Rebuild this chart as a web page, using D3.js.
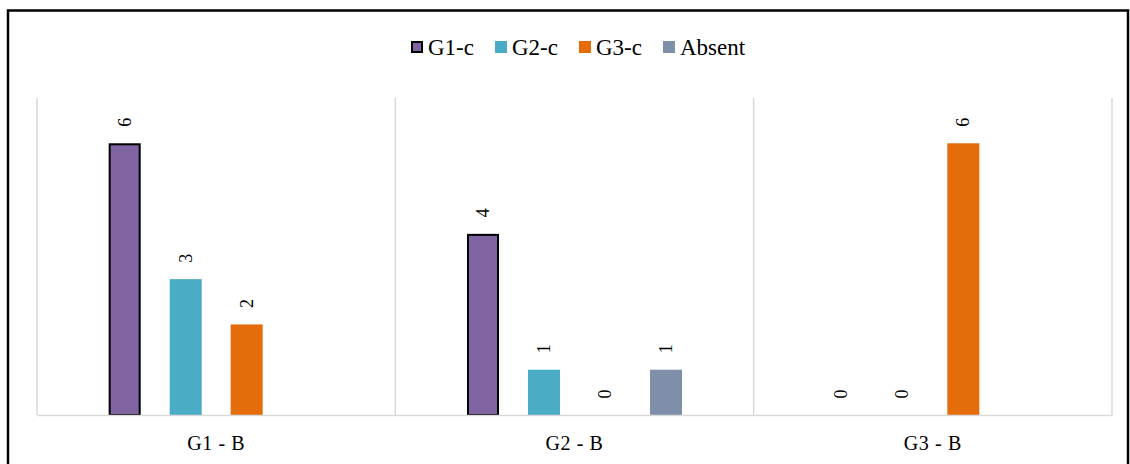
<!DOCTYPE html>
<html>
<head>
<meta charset="utf-8">
<script src="https://cdn.jsdelivr.net/npm/d3@7"></script>
<style>
  html, body { margin: 0; padding: 0; background: #fff; }
  svg { display: block; }
  svg text { font-family: "Times New Roman", "Liberation Serif", "DejaVu Serif", serif !important; }
</style>
</head>
<body>
<svg id="chart" width="1130" height="464"></svg>
<script>
const categories = ["G1 - B", "G2 - B", "G3 - B"];
const seriesNames = ["G1-c", "G2-c", "G3-c", "Absent"];
const g1c = [6, 4, 0];
const g2c = [3, 1, 0];
const g3c = [2, 0, 6];
const absent = [null, 1, null];
const seriesColors = ["#8064a2", "#4bacc6", "#e46c0a", "#7f8fa9"];

const seriesValues = [g1c, g2c, g3c, absent];
const FONT = "'Times New Roman', 'Liberation Serif', 'DejaVu Serif', serif";

const svg = d3.select("#chart").attr("font-family", FONT);
const W = 1130, H = 464;
const plot = { left: 37, right: 1112, top: 98, bottom: 415 };

svg.append("rect").attr("width", W).attr("height", H).attr("fill", "#fff");

// outer frame
svg.append("path")
  .attr("d", `M8,${H + 10} V10.5 H1128 V${H + 10}`)
  .attr("fill", "none").attr("stroke", "#000").attr("stroke-width", 2.5);

const x0 = d3.scaleBand().domain(categories).range([plot.left, plot.right]).padding(0);
const x1 = d3.scaleBand().domain(seriesNames).range([0, x0.bandwidth()])
  .paddingInner(0.475).paddingOuter(1.175);
const y = d3.scaleLinear().domain([0, 7]).range([plot.bottom, plot.top]);

// vertical category separators
const seps = categories.map(c => x0(c)).concat([x0.range()[1]]);
svg.append("g").selectAll("line").data(seps).join("line")
  .attr("x1", d => d).attr("x2", d => d)
  .attr("y1", plot.top).attr("y2", plot.bottom)
  .attr("stroke", "#d9d9d9").attr("stroke-width", 1.5);

// bars
const data = [];
categories.forEach((c, i) => {
  seriesNames.forEach((s, j) => {
    data.push({ cat: c, series: s, j, value: seriesValues[j][i] });
  });
});

const barG = svg.append("g");
barG.selectAll("rect").data(data.filter(d => d.value != null && d.value > 0)).join("rect")
  .attr("x", d => x0(d.cat) + x1(d.series) + (d.j === 0 ? 1 : 0))
  .attr("width", d => x1.bandwidth() - (d.j === 0 ? 2 : 0))
  .attr("y", d => y(d.value) + (d.j === 0 ? 1 : 0))
  .attr("height", d => y(0) - y(d.value) - (d.j === 0 ? 1 : 0))
  .attr("fill", d => seriesColors[d.j])
  .attr("stroke", d => d.j === 0 ? "#000" : "none")
  .attr("stroke-width", 2);

// x axis
const xAxis = d3.axisBottom(x0).tickSize(0).tickPadding(21);
const axG = svg.append("g").attr("transform", `translate(0,${plot.bottom})`).call(xAxis);
axG.attr("font-family", FONT).attr("font-size", 20);
axG.select(".domain").attr("stroke", "#d9d9d9").attr("stroke-width", 1.5);
axG.selectAll("text")
  .attr("font-family", FONT)
  .attr("font-size", 20).attr("fill", "#000")
  .style("letter-spacing", "0.6px");

// data labels
svg.append("g").selectAll("text").data(data.filter(d => d.value != null)).join("text")
  .attr("transform", d => `translate(${x0(d.cat) + x1(d.series) + x1.bandwidth() / 2},${y(d.value) - 21}) rotate(-90)`)
  .attr("text-anchor", "middle")
  .attr("dominant-baseline", "central")
  .attr("font-family", FONT)
  .attr("font-size", 18)
  .attr("fill", "#000")
  .text(d => d.value);

// legend
const leg = svg.append("g");
let lx = 411;
const ly = 47;
seriesNames.forEach((s, j) => {
  leg.append("rect")
    .attr("x", lx + (j === 0 ? 1 : 0)).attr("y", ly - 6 + (j === 0 ? 1 : 0))
    .attr("width", 12 - (j === 0 ? 2 : 0)).attr("height", 12 - (j === 0 ? 2 : 0))
    .attr("fill", seriesColors[j])
    .attr("stroke", j === 0 ? "#000" : "none").attr("stroke-width", 2);
  const t = leg.append("text")
    .attr("x", lx + 17).attr("y", ly + 8)
    .attr("font-family", FONT)
    .attr("font-size", 23).attr("fill", "#000")
    .text(s);
  const w = t.node().getComputedTextLength();
  lx = lx + 17 + w + 21;
});
</script>
</body>
</html>
